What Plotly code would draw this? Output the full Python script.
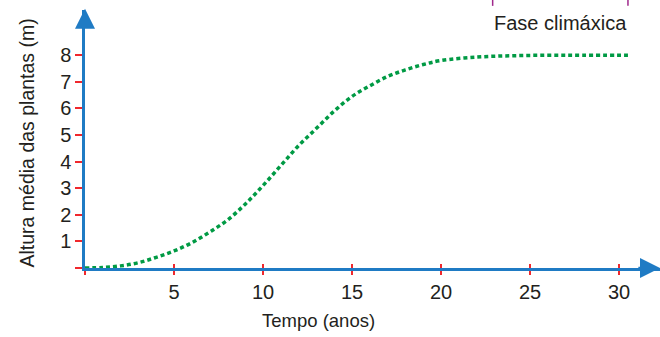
import plotly.graph_objects as go

# Data
tempo = [0, 1, 2, 3, 4, 5, 6, 7, 8, 9, 10, 11, 12, 13, 14, 15, 16, 17, 18, 19, 20, 22, 24, 26, 28, 30.5]
altura = [0, 0.02, 0.08, 0.2, 0.4, 0.64, 0.95, 1.35, 1.8, 2.4, 3.1, 3.85, 4.6, 5.25, 5.9, 6.45,
          6.85, 7.2, 7.45, 7.65, 7.8, 7.93, 7.98, 8.0, 8.0, 8.0]
x_ticks = [0, 5, 10, 15, 20, 25, 30]
x_labels = ["", "5", "10", "15", "20", "25", "30"]
y_ticks = [0, 1, 2, 3, 4, 5, 6, 7, 8]
y_labels = ["", "1", "2", "3", "4", "5", "6", "7", "8"]
climax_span = [22.9, 30.5]

BLUE = "#1f7bc4"
RED = "#f0282d"
GREEN = "#009a44"
TXT = "#231f20"
FONT = "Liberation Sans, Arial, sans-serif"

fig = go.Figure()
fig.add_trace(go.Scatter(
    x=tempo, y=altura, mode="lines", line_shape="spline",
    line=dict(color=GREEN, width=3.5, dash="4px,3px"),
    hoverinfo="skip", showlegend=False,
))
# empty trace so the overlaid tick axis is drawn
fig.add_trace(go.Scatter(x=[], y=[], xaxis="x2", yaxis="y", hoverinfo="skip", showlegend=False))

fig.update_layout(
    width=660, height=337,
    margin=dict(l=85, r=0, t=10, b=69),
    paper_bgcolor="white", plot_bgcolor="white",
    font=dict(family=FONT, color=TXT, size=20),
    xaxis=dict(
        range=[0, 32.3], showgrid=False, zeroline=False,
        showline=True, linecolor=BLUE, linewidth=2.5,
        tickvals=x_ticks, ticktext=x_labels,
        ticks="outside", ticklen=4, tickwidth=2, tickcolor=RED,
        tickfont=dict(size=20, color=TXT),
    ),
    xaxis2=dict(
        overlaying="x", matches="x", anchor="y", side="bottom", showgrid=False, zeroline=False,
        showline=False, tickvals=x_ticks, showticklabels=False,
        ticks="inside", ticklen=4, tickwidth=2, tickcolor=RED,
    ),
    yaxis=dict(
        range=[0, 9.7], showgrid=False, zeroline=False,
        showline=True, linecolor=BLUE, linewidth=2.5,
        tickvals=y_ticks, ticktext=y_labels,
        ticks="outside", ticklen=7, tickwidth=2, tickcolor=RED,
        tickfont=dict(size=20, color=TXT),
    ),
    showlegend=False,
)

# Axis arrows
fig.add_annotation(x=0, y=9.75, ax=0, ay=9.0, xref="x", yref="y", axref="x", ayref="y",
                   showarrow=True, arrowhead=2, arrowsize=1.6, arrowwidth=2.5,
                   arrowcolor=BLUE, text="")
fig.add_annotation(x=32.3, y=0, ax=31.0, ay=0, xref="x", yref="y", axref="x", ayref="y",
                   showarrow=True, arrowhead=2, arrowsize=1.6, arrowwidth=2.5,
                   arrowcolor=BLUE, text="")

# Titles
fig.add_annotation(text="Tempo (anos)", x=13.1, y=-0.205, xref="x", yref="paper",
                   showarrow=False, font=dict(size=18.5, color=TXT), xanchor="center", yanchor="middle")
fig.add_annotation(text="Altura média das plantas (m)", xref="paper", yref="paper",
                   x=-0.1015, y=0.485, textangle=-90, showarrow=False,
                   font=dict(size=19.5, color=TXT), xanchor="center", yanchor="middle")
fig.add_annotation(text="Fase climáxica", xref="x", yref="paper", x=(climax_span[0] + climax_span[1]) / 2,
                   y=0.95, showarrow=False, font=dict(size=20, color=TXT),
                   xanchor="center", yanchor="middle")

# Bracket fragments above the label
for xv in climax_span:
    fig.add_shape(type="line", xref="x", yref="paper", x0=xv, x1=xv, y0=1.016, y1=1.045,
                  line=dict(color="#a0288c", width=1.5))

fig.write_html("out.html", config={"displayModeBar": False},
               post_script="document.body.style.margin='0';document.body.style.overflow='hidden';")
